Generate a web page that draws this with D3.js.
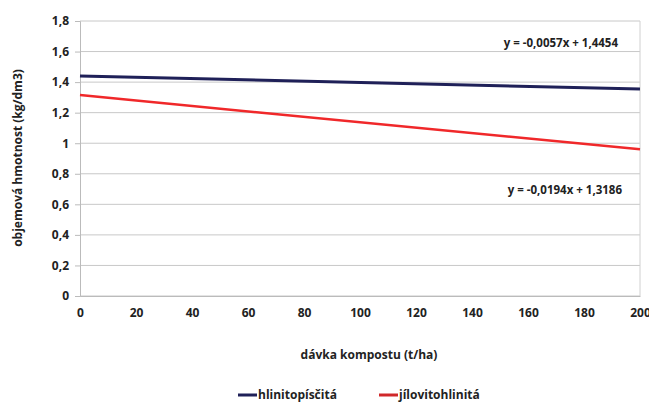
<!DOCTYPE html>
<html>
<head>
<meta charset="utf-8">
<script src="https://cdn.jsdelivr.net/npm/d3@7"></script>
<style>
  body { margin: 0; background: #fff; }
  text { font-family: "Open Sans", sans-serif; font-weight: bold; fill: #222; }
</style>
</head>
<body>
<div id="chart"></div>
<script>
// Data
const xValues = [0, 200]
const hlinitopiscita = [1.44, 1.355]
const jilovitohlinita = [1.315, 0.96]
const yTicks = [0, 0.2, 0.4, 0.6, 0.8, 1, 1.2, 1.4, 1.6, 1.8]
const xTicks = [0, 20, 40, 60, 80, 100, 120, 140, 160, 180, 200]
const seriesNames = ['hlinitopísčitá', 'jílovitohlinitá']
const trendLabels = ['y = -0,0057x + 1,4454', 'y = -0,0194x + 1,3186']

let dimensions = {
  width: 649,
  height: 404,
  margin: { top: 21, bottom: 108, left: 80, right: 9 }
}
dimensions.ctrWidth = dimensions.width - dimensions.margin.left - dimensions.margin.right
dimensions.ctrHeight = dimensions.height - dimensions.margin.top - dimensions.margin.bottom

const svg = d3.select('#chart')
  .append('svg')
  .attr('width', dimensions.width)
  .attr('height', dimensions.height)

const ctr = svg.append('g')
  .attr('transform', `translate(${dimensions.margin.left}, ${dimensions.margin.top})`)

// Scales
const xScale = d3.scaleLinear()
  .domain([0, 200])
  .range([0, dimensions.ctrWidth])

const yScale = d3.scaleLinear()
  .domain([0, 1.8])
  .range([dimensions.ctrHeight, 0])

const fmt = d => String(d).replace('.', ',')

// Grid
ctr.append('g')
  .selectAll('line')
  .data(yTicks)
  .join('line')
  .attr('x1', 0)
  .attr('x2', dimensions.ctrWidth)
  .attr('y1', d => yScale(d))
  .attr('y2', d => yScale(d))
  .attr('stroke', '#c8c8c8')
  .attr('stroke-width', 1)

// Frame
ctr.append('line')
  .attr('x1', dimensions.ctrWidth).attr('x2', dimensions.ctrWidth)
  .attr('y1', 0).attr('y2', dimensions.ctrHeight)
  .attr('stroke', '#d0d0d0')

// Axis
const yAxis = d3.axisLeft(yScale)
  .tickValues(yTicks)
  .tickFormat(fmt)
  .tickSize(5)
  .tickPadding(6)

const yAxisGroup = ctr.append('g').call(yAxis)
yAxisGroup.select('.domain').attr('stroke', '#bbb')
yAxisGroup.selectAll('.tick line').attr('stroke', '#bbb')
yAxisGroup.selectAll('text').style('font-size', '12px').attr('fill', '#222')

const xAxis = d3.axisBottom(xScale)
  .tickValues(xTicks)
  .tickSize(0)
  .tickPadding(12)

const xAxisGroup = ctr.append('g')
  .attr('transform', `translate(0, ${dimensions.ctrHeight})`)
  .call(xAxis)
xAxisGroup.select('.domain').attr('stroke', '#bbb')
xAxisGroup.selectAll('text').style('font-size', '12px').attr('fill', '#222')

// Lines
const line = d3.line()
  .x((d, i) => xScale(xValues[i]))
  .y(d => yScale(d))

ctr.append('path')
  .datum(hlinitopiscita)
  .attr('d', line)
  .attr('fill', 'none')
  .attr('stroke', '#1f2058')
  .attr('stroke-width', 3)

ctr.append('path')
  .datum(jilovitohlinita)
  .attr('d', line)
  .attr('fill', 'none')
  .attr('stroke', '#f0282a')
  .attr('stroke-width', 2.5)

// Trend labels
ctr.append('text')
  .text(trendLabels[0])
  .attr('x', dimensions.ctrWidth - 22)
  .attr('y', yScale(1.63))
  .attr('text-anchor', 'end')
  .style('font-size', '11.5px')

ctr.append('text')
  .text(trendLabels[1])
  .attr('x', dimensions.ctrWidth - 18)
  .attr('y', yScale(0.67))
  .attr('text-anchor', 'end')
  .style('font-size', '11.5px')

// Axis titles
svg.append('text')
  .text('dávka kompostu (t/ha)')
  .attr('x', 369)
  .attr('y', 359)
  .attr('text-anchor', 'middle')
  .style('font-size', '12px')

svg.append('text')
  .text('objemová hmotnost (kg/dm3)')
  .attr('transform', 'translate(22, 158) rotate(-90)')
  .attr('text-anchor', 'middle')
  .style('font-size', '12px')

// Legend
const legend = svg.append('g')
  .attr('transform', 'translate(238, 395)')

const legendColors = ['#1f2058', '#d0282a']
const legendX = [0, 141]

seriesNames.forEach((name, i) => {
  const g = legend.append('g').attr('transform', `translate(${legendX[i]}, 0)`)
  g.append('line')
    .attr('x1', 0).attr('x2', 19)
    .attr('y1', 0).attr('y2', 0)
    .attr('stroke', legendColors[i])
    .attr('stroke-width', 3)
  g.append('text')
    .text(name)
    .attr('x', 20)
    .attr('y', 4)
    .style('font-size', '12px')
})
</script>
</body>
</html>
